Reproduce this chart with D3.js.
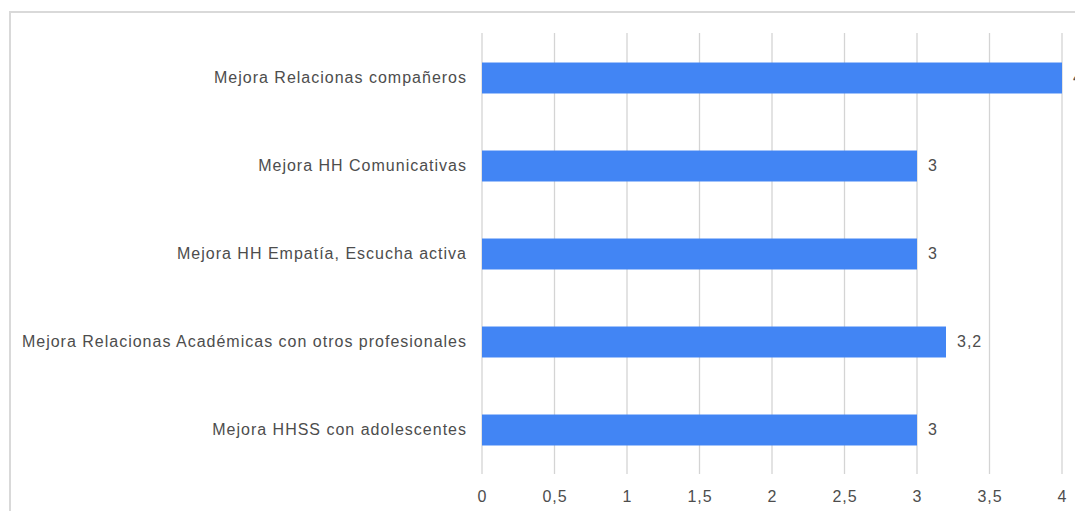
<!DOCTYPE html>
<html><head><meta charset="utf-8">
<script src="https://cdn.jsdelivr.net/npm/d3@7"></script>
<style>body{margin:0;background:#fff;} svg{display:block;}</style>
</head><body>
<svg id="c" width="1075" height="511"></svg>
<script>
const categories = ["Mejora Relacionas compañeros","Mejora HH Comunicativas","Mejora HH Empatía, Escucha activa","Mejora Relacionas Académicas con otros profesionales","Mejora HHSS con adolescentes"];
const values = [4, 3, 3, 3.2, 3];
const valueLabels = ["4","3","3","3,2","3"];
const tickValues = [0,0.5,1,1.5,2,2.5,3,3.5,4];
const tickLabels = ["0","0,5","1","1,5","2","2,5","3","3,5","4"];

const svg = d3.select("#c");
const font = "'Liberation Sans', Arial, sans-serif";
const fs = 16, ls = "1px", col = "#4d4d4d";
svg.append("rect").attr("x",10).attr("y",12).attr("width",1100).attr("height",520)
  .attr("fill","#fff").attr("stroke","#d9d9d9").attr("stroke-width",2);

const x = d3.scaleLinear().domain([0,4]).range([482,1062]);
const y = d3.scaleBand().domain(categories).range([34,474]).paddingInner(0.648).paddingOuter(0.324);

const grid = svg.append("g");
grid.selectAll("line").data(tickValues).join("line")
  .attr("x1",d=>x(d)).attr("x2",d=>x(d)).attr("y1",33).attr("y2",474)
  .attr("stroke","#d4d4d4").attr("stroke-width",1.3);

const xAxis = d3.axisBottom(x).tickValues(tickValues).tickSize(0).tickPadding(0)
  .tickFormat((d,i)=>tickLabels[i]);
const gx = svg.append("g").attr("transform","translate(0,502)").call(xAxis);
gx.select(".domain").remove();
gx.selectAll("text").attr("font-family",font).attr("font-size",fs).attr("fill",col)
  .attr("letter-spacing",ls).attr("y",0).attr("dy","0");

svg.append("g").selectAll("rect").data(values).join("rect")
  .attr("x",x(0)).attr("y",(d,i)=>y(categories[i]))
  .attr("width",d=>x(d)-x(0)).attr("height",y.bandwidth()).attr("fill","#4285f4");

const yAxis = d3.axisLeft(y).tickSize(0).tickPadding(15);
const gy = svg.append("g").attr("transform",`translate(${x(0)},0)`).call(yAxis);
gy.select(".domain").remove();
gy.selectAll("text").attr("font-family",font).attr("font-size",fs).attr("fill",col)
  .attr("letter-spacing",ls).attr("dy","0.34em");

svg.append("g").selectAll("text").data(values).join("text")
  .attr("x",d=>x(d)+11).attr("y",(d,i)=>y(categories[i])+y.bandwidth()/2)
  .attr("dy","0.34em").attr("font-family",font).attr("font-size",fs).attr("fill",col)
  .attr("letter-spacing",ls)
  .text((d,i)=>valueLabels[i]);
</script>
</body></html>
